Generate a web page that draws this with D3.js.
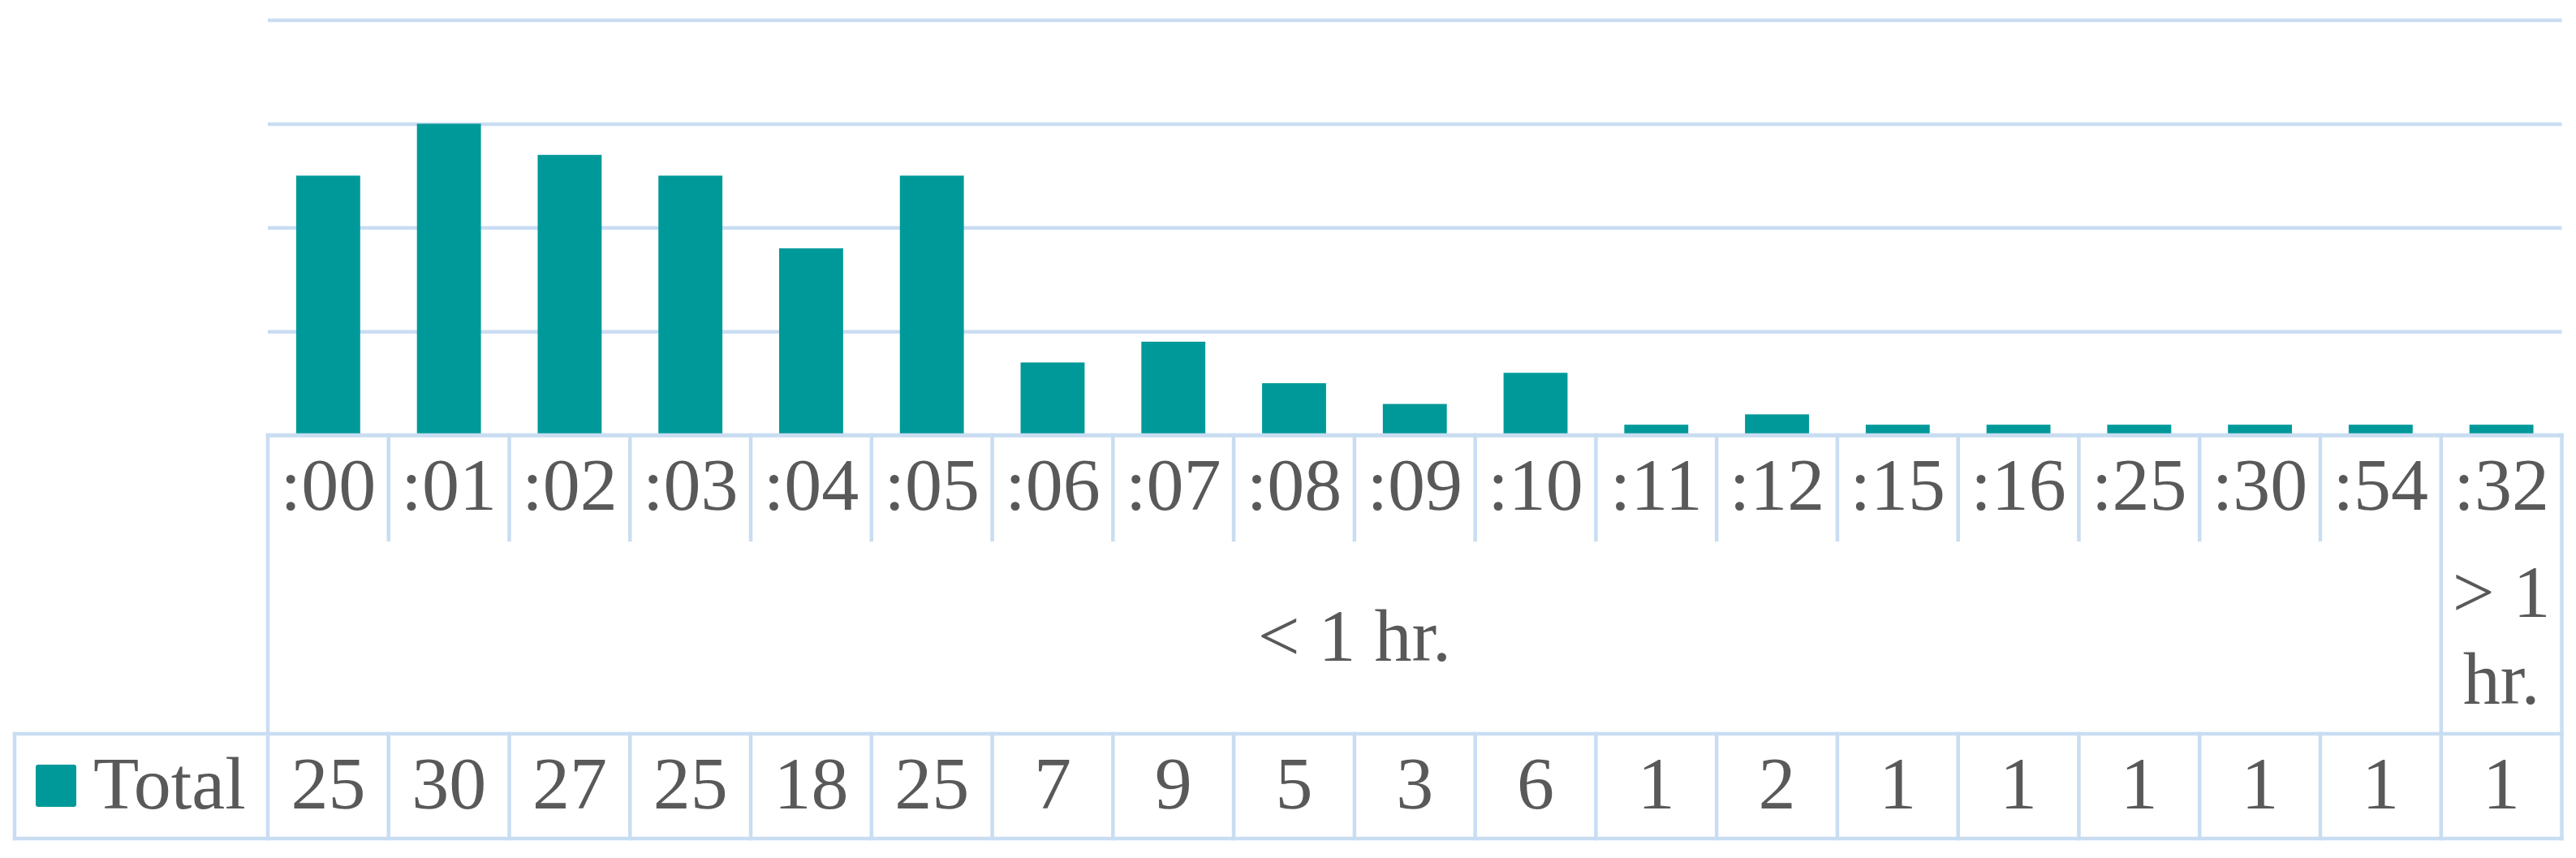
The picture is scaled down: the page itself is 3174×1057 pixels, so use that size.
<!DOCTYPE html>
<html>

<head>
    <meta charset="UTF-8">
    <title>Total by minute</title>
    <script src="https://cdnjs.cloudflare.com/ajax/libs/d3/7.8.5/d3.min.js"></script>
    <style>
        body { margin: 0; background: #fff; }
        svg text { font-family: "Liberation Serif", "Times New Roman", serif; fill: #595959; }
    </style>
</head>

<body>
    <svg id="chart"></svg>
    <script>

        // data
        var categories = [":00", ":01", ":02", ":03", ":04", ":05", ":06", ":07", ":08", ":09",
            ":10", ":11", ":12", ":15", ":16", ":25", ":30", ":54", ":32"];
        var totals = [25, 30, 27, 25, 18, 25, 7, 9, 5, 3, 6, 1, 2, 1, 1, 1, 1, 1, 1];
        var groupLabels = ["< 1 hr.", "> 1 hr."];
        var groupSizes = [18, 1];
        var seriesName = "Total";
        var yTicks = [0, 10, 20, 30, 40];

        var svgWidth = 3174,
            svgHeight = 1057;
        // note: "top" is taken by window.top, so plotTop
        var plotLeft = 330, plotRight = 3156.5, plotTop = 24.6, base = 536;
        var catRowBottom = 665, groupRowBottom = 904, tableBottom = 1033, tableLeft = 18;
        var lineColor = "#c9ddf2", lineW = 4.5;
        var barColor = "#009999";
        var fontSize = 92;

        var svg = d3.select("#chart")
            .attr("width", svgWidth)
            .attr("height", svgHeight);

        var x = d3.scaleBand()
            .domain(categories)
            .range([plotLeft, plotRight])
            .paddingInner(0.47)
            .paddingOuter(0.235);

        var y = d3.scaleLinear()
            .domain([0, 40])
            .range([base, plotTop]);

        var step = x.step();

        // gridlines
        var grid = svg.append("g")
            .attr("transform", "translate(" + plotLeft + ",0)")
            .call(d3.axisLeft(y).tickValues(yTicks).tickSize(-(plotRight - plotLeft)).tickFormat(""));
        grid.select(".domain").remove();
        grid.selectAll(".tick line")
            .attr("stroke", lineColor)
            .attr("stroke-width", lineW);

        // bars
        svg.append("g")
            .selectAll("rect")
            .data(totals)
            .enter().append("rect")
            .attr("x", function (d, i) { return x(categories[i]) })
            .attr("width", x.bandwidth())
            .attr("y", function (d) { return y(d) })
            .attr("height", function (d) { return y(0) - y(d) })
            .attr("fill", barColor);

        // data table lines
        var lines = svg.append("g")
            .attr("stroke", lineColor)
            .attr("stroke-width", lineW)
            .attr("stroke-linecap", "square");

        function line(x1, y1, x2, y2) {
            lines.append("line").attr("x1", x1).attr("y1", y1).attr("x2", x2).attr("y2", y2);
        }

        line(plotLeft, base, plotRight, base);
        line(tableLeft, groupRowBottom, plotRight, groupRowBottom);
        line(tableLeft, tableBottom, plotRight, tableBottom);
        line(tableLeft, groupRowBottom, tableLeft, tableBottom);
        line(plotLeft, base, plotLeft, tableBottom);
        line(plotRight, base, plotRight, tableBottom);

        // boundaries between groups
        var groupStarts = [];
        var acc = 0;
        groupSizes.forEach(function (n) { groupStarts.push(acc); acc += n; });

        categories.forEach(function (c, i) {
            if (i === 0) return;
            var bx = plotLeft + i * step;
            var isGroupEdge = groupStarts.indexOf(i) >= 0;
            line(bx, base, bx, isGroupEdge ? groupRowBottom : catRowBottom);
            line(bx, groupRowBottom, bx, tableBottom);
        });

        // category labels
        svg.append("g")
            .selectAll("text")
            .data(categories)
            .enter().append("text")
            .attr("x", function (d) { return x(d) + x.bandwidth() / 2 })
            .attr("y", (base + catRowBottom) / 2 + fontSize * 0.3)
            .attr("text-anchor", "middle")
            .attr("font-size", fontSize)
            .text(function (d) { return d });

        // group labels, wrapped to the cell width
        var lineH = 107;
        groupLabels.forEach(function (label, gi) {
            var x0 = plotLeft + groupStarts[gi] * step;
            var w = groupSizes[gi] * step;
            var t = svg.append("text")
                .attr("text-anchor", "middle")
                .attr("font-size", fontSize);
            var words = label.split(" ");
            var rows = [];
            var cur = [];
            words.forEach(function (wd) {
                var trial = cur.concat([wd]).join(" ");
                t.text(trial);
                if (cur.length && t.node().getComputedTextLength() > w - 16) {
                    rows.push(cur.join(" "));
                    cur = [wd];
                } else {
                    cur.push(wd);
                }
            });
            rows.push(cur.join(" "));
            t.text(null);
            var cy = (catRowBottom + groupRowBottom) / 2 + fontSize * 0.32 - (rows.length - 1) * lineH / 2;
            rows.forEach(function (r, k) {
                t.append("tspan")
                    .attr("x", x0 + w / 2)
                    .attr("y", cy + k * lineH)
                    .text(r);
            });
        });

        // legend key and series name
        svg.append("rect")
            .attr("x", 44)
            .attr("y", 942)
            .attr("width", 50)
            .attr("height", 52)
            .attr("rx", 3)
            .attr("fill", barColor);

        svg.append("text")
            .attr("x", 115)
            .attr("y", (groupRowBottom + tableBottom) / 2 + fontSize * 0.3)
            .attr("font-size", fontSize)
            .text(seriesName);

        // values row
        svg.append("g")
            .selectAll("text")
            .data(totals)
            .enter().append("text")
            .attr("x", function (d, i) { return x(categories[i]) + x.bandwidth() / 2 })
            .attr("y", (groupRowBottom + tableBottom) / 2 + fontSize * 0.3)
            .attr("text-anchor", "middle")
            .attr("font-size", fontSize)
            .text(function (d) { return d });

    </script>
</body>

</html>
